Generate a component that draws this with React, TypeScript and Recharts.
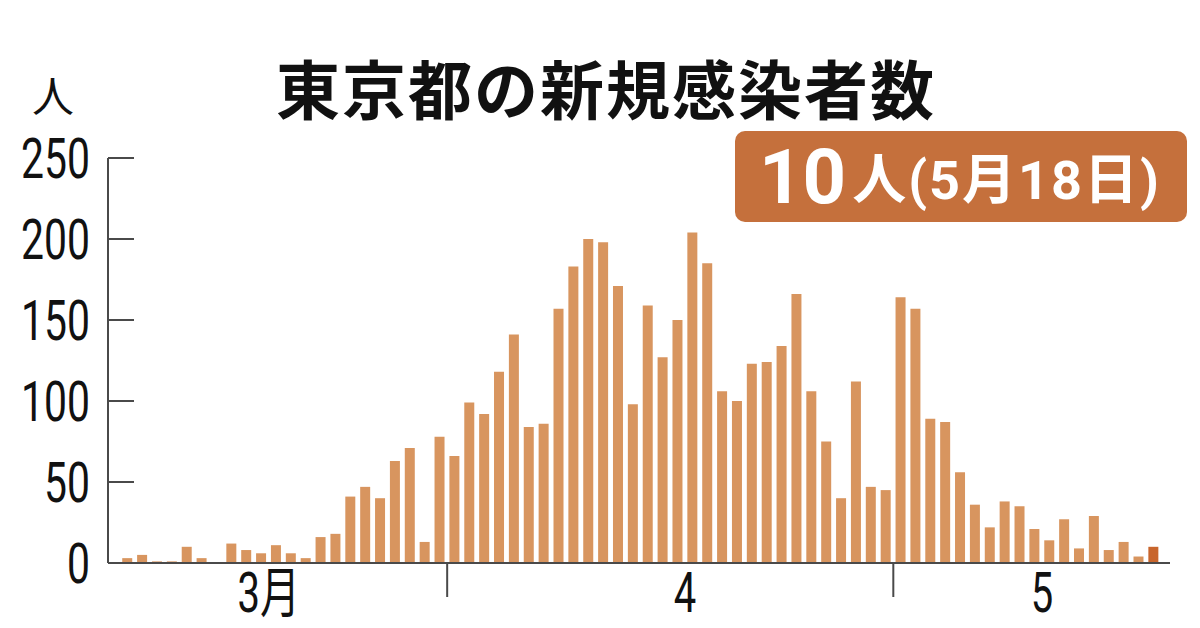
import { BarChart, Bar, XAxis, YAxis, Cell } from "recharts";

const marchDays = ["3/10", "3/11", "3/12", "3/13", "3/14", "3/15", "3/16", "3/17", "3/18", "3/19", "3/20", "3/21", "3/22", "3/23", "3/24", "3/25", "3/26", "3/27", "3/28", "3/29", "3/30", "3/31"];
const aprilDays = ["4/1", "4/2", "4/3", "4/4", "4/5", "4/6", "4/7", "4/8", "4/9", "4/10", "4/11", "4/12", "4/13", "4/14", "4/15", "4/16", "4/17", "4/18", "4/19", "4/20", "4/21", "4/22", "4/23", "4/24", "4/25", "4/26", "4/27", "4/28", "4/29", "4/30"];
const mayDays = ["5/1", "5/2", "5/3", "5/4", "5/5", "5/6", "5/7", "5/8", "5/9", "5/10", "5/11", "5/12", "5/13", "5/14", "5/15", "5/16", "5/17", "5/18"];

const marchCases = [3, 5, 1, 1, 10, 3, 0, 12, 8, 6, 11, 6, 3, 16, 18, 41, 47, 40, 63, 71, 13, 78];
const aprilCases = [66, 99, 92, 118, 141, 84, 86, 157, 183, 200, 198, 171, 98, 159, 127, 150, 204, 185, 106, 100, 123, 124, 134, 166, 106, 75, 40, 112, 47, 45];
const mayCases = [164, 157, 89, 87, 56, 36, 22, 38, 35, 21, 14, 27, 9, 29, 8, 13, 4, 10];

const yTicks = [0, 50, 100, 150, 200, 250];
const monthLabelDays = ["3/19", "4/16", "5/10"];
const monthLabels = ["3月", "4", "5"];
const monthEndDays = ["3/31", "4/30"];

const days = [...marchDays, ...aprilDays, ...mayDays];
const cases = [...marchCases, ...aprilCases, ...mayCases];
const data = days.map((day, i) => ({ day, cases: cases[i] }));

const BAR = "#d8955f";
const LATEST = "#c8652c";
const AXIS = "#4a4a4a";
const LABEL_FONT = "Roboto, 'Noto Sans CJK JP', sans-serif";
const BAND = 14.87;
const SQUEEZE = 0.73;

function XTick({ x, y, payload }: any) {
  const day = payload.value;
  const li = monthLabelDays.indexOf(day);
  if (monthEndDays.includes(day)) {
    return <line x1={x + BAND / 2} x2={x + BAND / 2} y1={y} y2={y + 34} stroke={AXIS} strokeWidth={2} />;
  }
  if (li >= 0) {
    return (
      <text
        x={0}
        y={0}
        transform={`translate(${x + BAND / 2},${y + 49}) scale(0.8,1.1)`}
        textAnchor="middle"
        fontSize={50}
        fill="#111"
        fontFamily={LABEL_FONT}
      >
        {monthLabels[li]}
      </text>
    );
  }
  return null;
}

function YTick({ x, y, payload }: any) {
  return (
    <g>
      <line x1={x + 18} x2={x + 44} y1={y} y2={y} stroke={AXIS} strokeWidth={2} />
      <text
        x={0}
        y={0}
        transform={`translate(${x},${y + 20}) scale(${SQUEEZE},1)`}
        textAnchor="end"
        fontSize={56}
        fill="#111"
        fontFamily={LABEL_FONT}
      >
        {payload.value}
      </text>
    </g>
  );
}

export default function App() {
  return (
    <div style={{ position: "absolute", left: 0, top: 0, width: 1200, height: 628, background: "#fff", fontFamily: "'Noto Sans CJK JP', sans-serif" }}>
      <div style={{ position: "absolute", left: 276, top: 40, fontSize: 64, fontWeight: 700, letterSpacing: 2, color: "#111", whiteSpace: "nowrap" }}>
        東京都の新規感染者数
      </div>
      <div style={{ position: "absolute", left: 32, top: 63, fontSize: 42, color: "#111" }}>人</div>
      <div
        style={{
          position: "absolute",
          left: 735,
          top: 131,
          width: 452,
          height: 91,
          boxSizing: "border-box",
          paddingLeft: 24,
          background: "#c5703c",
          borderRadius: 10,
          color: "#fff",
          fontWeight: 700,
          fontFamily: "Roboto, 'Noto Sans CJK JP', sans-serif",
          display: "flex",
          alignItems: "center",
          whiteSpace: "nowrap",
        }}
      >
        <span style={{ fontSize: 76, lineHeight: 1 }}>10</span>
        <span style={{ fontSize: 54, lineHeight: 1, marginTop: 8, marginLeft: 6, letterSpacing: 2 }}>人(5月18日)</span>
      </div>
      <BarChart
        width={1200}
        height={628}
        data={data}
        margin={{ top: 158, right: 30, left: 0, bottom: 0 }}
        barCategoryGap="15%"
        style={{ position: "absolute", left: 0, top: 0 }}
      >
        <XAxis
          dataKey="day"
          interval={0}
          height={65}
          tickLine={false}
          tickSize={0}
          tickMargin={0}
          axisLine={{ stroke: AXIS, strokeWidth: 2 }}
          padding={{ left: 12, right: 9 }}
          tick={<XTick />}
        />
        <YAxis
          domain={[0, 250]}
          ticks={yTicks}
          width={108}
          tickLine={false}
          tickSize={0}
          tickMargin={18}
          axisLine={{ stroke: AXIS, strokeWidth: 2 }}
          tick={<YTick />}
        />
        <Bar dataKey="cases" isAnimationActive={false}>
          {data.map((d, i) => (
            <Cell key={d.day} fill={i === data.length - 1 ? LATEST : BAR} />
          ))}
        </Bar>
      </BarChart>
    </div>
  );
}
